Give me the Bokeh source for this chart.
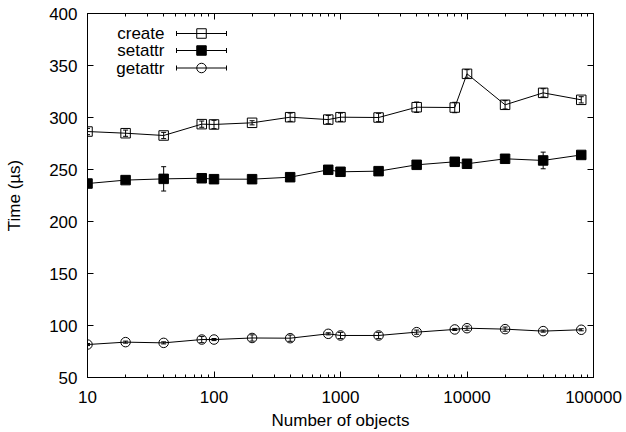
from bokeh.plotting import figure
from bokeh.models import (ColumnDataSource, Whisker, TeeHead, FixedTicker, PrintfTickFormatter,
                          LogAxis, LinearAxis, Range1d, LinearScale)
from bokeh.core.properties import value
from bokeh.embed import file_html
from bokeh.resources import INLINE

# ---------------- data ----------------
n_objects = [10, 20, 40, 80, 100, 200, 400, 800, 1000, 2000, 4000, 8000, 10000, 20000, 40000, 80000]
create_us = [286.5, 284.9, 282.7, 293.6, 293.3, 294.9, 300.3, 298.0, 300.3, 300.0, 309.9, 309.6, 342.0, 312.2, 323.7, 317.0]
create_err = [3, 3, 3, 3, 4, 2, 4, 4, 4, 4, 5, 5, 4, 4, 4, 3]
setattr_us = [236.5, 239.8, 241.0, 241.6, 240.7, 240.7, 242.6, 249.7, 247.8, 248.4, 254.5, 257.4, 255.5, 260.3, 258.7, 264.0]
setattr_err = [1, 1, 11.7, 1, 1, 1, 1, 1, 1, 2, 1, 1, 1, 1, 8, 1]
getattr_us = [81.7, 84.0, 83.3, 86.5, 86.5, 88.0, 87.8, 92.0, 90.4, 90.4, 93.6, 96.2, 97.4, 96.5, 94.6, 95.9]
getattr_err = [1, 1, 1, 3, 1, 3, 3, 1, 3, 3, 2, 1, 2, 2, 1, 1]

series_names = ["create", "setattr", "getattr"]
x_major_ticks = [10, 100, 1000, 10000, 100000]
x_minor_ticks = [m * 10 ** k for k in range(1, 5) for m in range(2, 10)]
y_major_ticks = [50, 100, 150, 200, 250, 300, 350, 400]

# ---------------- style ----------------
FONT = "Liberation Sans"
FS = "17px"
FRAME_W, FRAME_H = 506, 364

p = figure(x_axis_type="log", x_range=(10, 100000), y_range=(50, 400),
           frame_width=FRAME_W, frame_height=FRAME_H,
           min_border_left=87, min_border_right=33, min_border_top=13, min_border_bottom=55,
           output_backend="svg", toolbar_location=None,
           x_axis_label="Number of objects", y_axis_label="Time (µs)")
p.xgrid.visible = False
p.ygrid.visible = False
p.outline_line_color = "black"
p.outline_line_alpha = 1
p.outline_line_width = 1
p.background_fill_color = "white"
p.border_fill_color = "white"

xticker = FixedTicker(ticks=x_major_ticks, minor_ticks=x_minor_ticks)
yticker = FixedTicker(ticks=y_major_ticks, minor_ticks=[])

def style_axis(ax, labels=True):
    ax.axis_line_color = "black"
    ax.major_tick_line_color = "black"
    ax.minor_tick_line_color = "black"
    ax.major_tick_in = 6
    ax.major_tick_out = 0
    ax.minor_tick_in = 3
    ax.minor_tick_out = 0
    ax.major_label_text_font = FONT
    ax.major_label_text_color = "black"
    ax.axis_label_text_font = FONT
    ax.axis_label_text_font_style = "normal"
    ax.axis_label_text_font_size = FS
    ax.axis_label_text_color = "black"
    if labels:
        ax.major_label_text_font_size = FS
    else:
        ax.major_label_text_font_size = "1px"
        ax.major_label_text_color = None
        ax.major_label_standoff = 0

xa = p.xaxis[0]
xa.ticker = xticker
xa.formatter = PrintfTickFormatter(format="%d")
style_axis(xa)
xa.major_label_standoff = 13
xa.axis_label_standoff = 5

ya = p.yaxis[0]
ya.ticker = yticker
style_axis(ya)
ya.major_label_standoff = 10
ya.axis_label_standoff = 22

top = LogAxis(ticker=xticker, formatter=PrintfTickFormatter(format="%d"))
style_axis(top, labels=False)
p.add_layout(top, "above")
right = LinearAxis(ticker=yticker)
style_axis(right, labels=False)
p.add_layout(right, "right")

# ---------------- series ----------------
def draw(yvals, errs, marker, fill):
    src = ColumnDataSource(dict(x=n_objects, y=yvals,
                                lo=[v - e for v, e in zip(yvals, errs)],
                                hi=[v + e for v, e in zip(yvals, errs)]))
    p.line("x", "y", source=src, line_color="black", line_width=1)
    w = Whisker(source=src, base="x", lower="lo", upper="hi", dimension="height",
                line_color="black", line_width=1,
                lower_head=TeeHead(size=5, line_color="black", line_width=1),
                upper_head=TeeHead(size=5, line_color="black", line_width=1))
    p.add_layout(w)
    p.scatter("x", "y", source=src, marker=marker, size=9.5, line_color="black",
              line_width=1, fill_color=fill if fill else "white",
              fill_alpha=1 if fill else 0)

draw(create_us, create_err, "square", None)
draw(setattr_us, setattr_err, "square", "black")
draw(getattr_us, getattr_err, "circle", None)

# ---------------- key (drawn in frame pixel space) ----------------
p.extra_x_ranges = {"px": Range1d(0, FRAME_W)}
p.extra_y_ranges = {"py": Range1d(0, FRAME_H)}
p.extra_x_scales = {"px": LinearScale()}
p.extra_y_scales = {"py": LinearScale()}

key_rows = [344, 327, 309.5]
key_x0, key_x1, key_xm, key_tx = 89, 139, 114, 77
key_markers = ["square", "square", "circle"]
key_fills = [None, "black", None]

p.text(x=[key_tx] * 3, y=key_rows, text=series_names, x_range_name="px", y_range_name="py",
       text_align="right", text_baseline="middle", text_font=value(FONT),
       text_font_size=FS, text_color="black")
p.segment(x0=[key_x0] * 3, x1=[key_x1] * 3, y0=key_rows, y1=key_rows,
          x_range_name="px", y_range_name="py", line_color="black", line_width=1)
for cx in (key_x0, key_x1):
    p.segment(x0=[cx] * 3, x1=[cx] * 3, y0=[r - 2.5 for r in key_rows], y1=[r + 2.5 for r in key_rows],
              x_range_name="px", y_range_name="py", line_color="black", line_width=1)
for r, m, f in zip(key_rows, key_markers, key_fills):
    p.scatter(x=[key_xm], y=[r], marker=m, size=9.5, x_range_name="px", y_range_name="py",
              line_color="black", line_width=1, fill_color=f if f else "white",
              fill_alpha=1 if f else 0)

open("out.html", "w").write(file_html(p, INLINE))
